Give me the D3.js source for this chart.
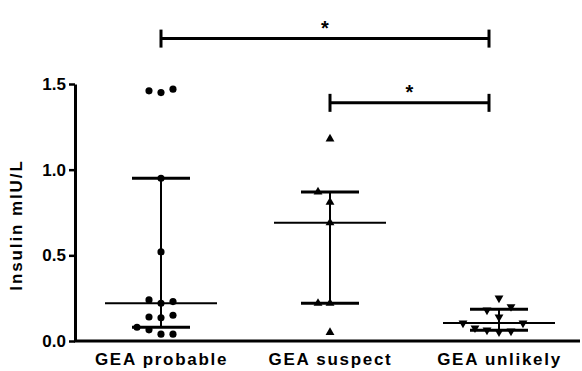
<!DOCTYPE html>
<html>
<head>
<meta charset="utf-8">
<script src="https://cdn.jsdelivr.net/npm/d3@7"></script>
<style>
  body { margin: 0; background: #fff; }
  text { font-family: "Liberation Sans", Arial, sans-serif; font-weight: bold; fill: #000; }
</style>
</head>
<body>
<div id="chart"></div>
<script>
// groups on the x axis
var groups = ["GEA probable", "GEA suspect", "GEA unlikely"];

// insulin values per group (mIU/L)
var probable = [1.45, 1.46, 1.47, 0.95, 0.52, 0.22, 0.24, 0.23,
                0.135, 0.14, 0.15, 0.04, 0.065, 0.04, 0.08];
var suspect  = [1.18, 0.81, 0.87, 0.69, 0.22, 0.22, 0.05];
var unlikely = [0.25, 0.14, 0.18, 0.20, 0.053, 0.064, 0.058, 0.076, 0.105, 0.105];

var yTicks = [0, 0.5, 1.0, 1.5];

// significance brackets: from group, to group, height (mIU/L), label
var comparisons = [
  { from: "GEA probable", to: "GEA unlikely", level: 1.765, label: "*" },
  { from: "GEA suspect",  to: "GEA unlikely", level: 1.39,  label: "*" }
];

var series = [
  { name: "GEA probable", values: probable, symbol: "circle" },
  { name: "GEA suspect",  values: suspect,  symbol: "up" },
  { name: "GEA unlikely", values: unlikely, symbol: "down" }
];

var width = 582, height = 371;

var svg = d3.select("#chart")
  .append("svg")
  .attr("width", width)
  .attr("height", height);

var x = d3.scalePoint()
  .domain(groups)
  .range([161, 499]);

var y = d3.scaleLinear()
  .domain([0, 1.5])
  .range([341, 84]);

// quantile as prism does it: position (n+1)p
function quantile(vals, p) {
  var s = vals.slice().sort(d3.ascending);
  var pos = (s.length + 1) * p;
  var lo = Math.floor(pos), hi = Math.ceil(pos);
  lo = Math.max(1, Math.min(s.length, lo));
  hi = Math.max(1, Math.min(s.length, hi));
  return s[lo - 1] + (pos - Math.floor(pos)) * (s[hi - 1] - s[lo - 1]);
}

// y axis
var yAxis = svg.append("g")
  .attr("transform", "translate(75,0)")
  .call(d3.axisLeft(y)
    .tickValues(yTicks)
    .tickFormat(d3.format(".1f"))
    .tickSizeInner(6)
    .tickSizeOuter(0)
    .tickPadding(3));
yAxis.select(".domain").attr("stroke", "#000").attr("stroke-width", 3);
yAxis.selectAll(".tick line").attr("stroke", "#000").attr("stroke-width", 2.5);
yAxis.selectAll(".tick text")
  .style("font-size", "17px")
  .attr("fill", "#000");

// x axis: plain line across, labels only
svg.append("line")
  .attr("x1", 74).attr("x2", 580)
  .attr("y1", y(0)).attr("y2", y(0))
  .attr("stroke", "#000")
  .attr("stroke-width", 3);

var xAxis = svg.append("g")
  .attr("transform", "translate(0," + y(0) + ")")
  .call(d3.axisBottom(x).tickSize(0).tickPadding(12));
xAxis.select(".domain").remove();
xAxis.selectAll(".tick text")
  .style("font-size", "17px")
  .style("letter-spacing", "1.7px")
  .attr("fill", "#000");

// y axis title
svg.append("text")
  .attr("transform", "translate(22,225)rotate(-90)")
  .style("text-anchor", "middle")
  .style("font-size", "17px")
  .style("letter-spacing", "1.9px")
  .text("Insulin mIU/L");

// median with interquartile range
series.forEach(function(s) {
  var cx = x(s.name);
  var med = d3.median(s.values);
  var q1 = quantile(s.values, 0.25);
  var q3 = quantile(s.values, 0.75);
  var g = svg.append("g").attr("class", "errbar");
  g.append("line")
    .attr("x1", cx).attr("x2", cx)
    .attr("y1", y(q1)).attr("y2", y(q3))
    .attr("stroke", "#000").attr("stroke-width", 2);
  g.append("line")
    .attr("x1", cx - 56).attr("x2", cx + 56)
    .attr("y1", y(med)).attr("y2", y(med))
    .attr("stroke", "#000").attr("stroke-width", 2);
  [q1, q3].forEach(function(q) {
    g.append("line")
      .attr("x1", cx - 29).attr("x2", cx + 29)
      .attr("y1", y(q)).attr("y2", y(q))
      .attr("stroke", "#000").attr("stroke-width", 3);
  });
});

// simple beeswarm so that points do not overlap
function swarm(values, step, near) {
  var placed = [];
  var order = [0, -1, 1, -2, 2, -3, 3, -4, 4];
  values.forEach(function(v) {
    var py = y(v);
    for (var k = 0; k < order.length; k++) {
      var dx = order[k] * step;
      var hit = placed.some(function(p) {
        return p.dx === dx && Math.abs(p.py - py) < near;
      });
      if (!hit) { placed.push({ v: v, py: py, dx: dx }); break; }
    }
  });
  return placed;
}

var circle = d3.symbol().type(d3.symbolCircle).size(40);
var tri = d3.symbol().type(d3.symbolTriangle).size(34);

series.forEach(function(s) {
  var cx = x(s.name);
  var pts = swarm(s.values, 12, 11);
  svg.selectAll(".pt-" + s.symbol)
    .data(pts)
    .enter()
    .append("path")
    .attr("class", "pt-" + s.symbol)
    .attr("d", s.symbol === "circle" ? circle : tri)
    .attr("fill", "#000")
    .attr("transform", function(d) {
      var t = "translate(" + (cx + d.dx) + "," + d.py + ")";
      if (s.symbol === "down") t += "rotate(180)";
      return t;
    });
});

// significance brackets
comparisons.forEach(function(c) {
  var x1 = x(c.from), x2 = x(c.to) - 10;
  var by = y(c.level);
  var g = svg.append("g").attr("class", "bracket");
  g.append("line")
    .attr("x1", x1).attr("x2", x2)
    .attr("y1", by).attr("y2", by)
    .attr("stroke", "#000").attr("stroke-width", 3);
  [x1, x2].forEach(function(xx) {
    g.append("line")
      .attr("x1", xx).attr("x2", xx)
      .attr("y1", by - 9).attr("y2", by + 9)
      .attr("stroke", "#000").attr("stroke-width", 3);
  });
  g.append("text")
    .attr("x", (x1 + x2) / 2)
    .attr("y", by - 4)
    .style("text-anchor", "middle")
    .style("font-size", "20px")
    .text(c.label);
});
</script>
</body>
</html>
